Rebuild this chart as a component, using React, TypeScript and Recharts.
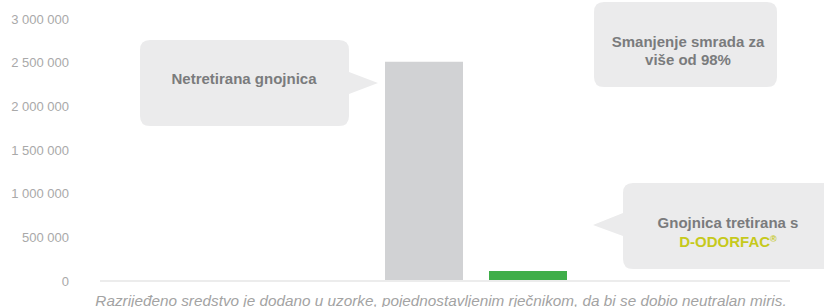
import { Bar, BarChart, Cell, Customized, XAxis, YAxis } from "recharts";

const categories = ["Netretirana gnojnica", "Gnojnica tretirana s D-ODORFAC®"];
const odourValues = [2510000, 115000];
const yTicks = [0, 500000, 1000000, 1500000, 2000000, 2500000, 3000000];
const caption =
  "Razrijeđeno sredstvo je dodano u uzorke, pojednostavljenim rječnikom, da bi se dobio neutralan miris.";

const BAR_COLORS = ["#d1d2d4", "#3fae49"];
const BUBBLE = "#ebebec";
const TEXT = "#7a7b7d";
const FONT = "'Liberation Sans', Arial, Helvetica, sans-serif";

const rows = categories.map((name, i) => ({ name, value: odourValues[i] }));

const fmt = (v: number) => String(v).replace(/\B(?=(\d{3})+(?!\d))/g, " ");

// rounded box with a small pointer on one side
function bubble(
  x: number,
  y: number,
  w: number,
  h: number,
  r: number,
  ptr?: { side: "left" | "right"; y0: number; y1: number; tx: number; ty: number }
) {
  let d = `M${x + r},${y} H${x + w - r} Q${x + w},${y} ${x + w},${y + r}`;
  if (ptr && ptr.side === "right") {
    d += ` V${ptr.y0} L${ptr.tx},${ptr.ty} L${x + w},${ptr.y1}`;
  }
  d += ` V${y + h - r} Q${x + w},${y + h} ${x + w - r},${y + h} H${x + r} Q${x},${y + h} ${x},${y + h - r}`;
  if (ptr && ptr.side === "left") {
    d += ` V${ptr.y1} L${ptr.tx},${ptr.ty} L${x},${ptr.y0}`;
  }
  d += ` V${y + r} Q${x},${y} ${x + r},${y} Z`;
  return <path d={d} fill={BUBBLE} />;
}

function Callouts() {
  const t = { fontFamily: FONT, fontSize: 15, fontWeight: 700, textAnchor: "middle" as const };
  return (
    <g>
      {bubble(140, 40, 209, 86, 10, { side: "right", y0: 72, y1: 94, tx: 378, ty: 83 })}
      <text x={244} y={83.5} fill={TEXT} {...t}>
        Netretirana gnojnica
      </text>

      {bubble(594, 2, 183, 85, 10)}
      <text x={688} y={46.5} fill={TEXT} {...t}>
        Smanjenje smrada za
      </text>
      <text x={688} y={64.5} fill={TEXT} {...t}>
        više od 98%
      </text>

      {bubble(623, 183, 215, 86, 10, { side: "left", y0: 213, y1: 236, tx: 593, ty: 225 })}
      <text x={728} y={227.5} fill={TEXT} {...t}>
        Gnojnica tretirana s
      </text>
      <text x={728} y={246.5} fill="#c6c91c" {...t}>
        D-ODORFAC<tspan fontSize={9} dy={-5}>®</tspan>
      </text>
    </g>
  );
}

export default function App() {
  return (
    <div style={{ position: "absolute", left: 0, top: 0 }}>
      <BarChart
        width={824}
        height={307}
        data={rows}
        margin={{ top: 19, right: 34, bottom: 0, left: 0 }}
        style={{ fontFamily: FONT }}
      >
        <YAxis
          width={100}
          domain={[0, 3000000]}
          ticks={yTicks}
          tickFormatter={fmt}
          axisLine={false}
          tickLine={false}
          tickMargin={25}
          tick={{ fill: "#a9a9a9", fontSize: 13 }}
        />
        <XAxis
          dataKey="name"
          height={26}
          padding={{ left: 272, right: 210 }}
          tick={false}
          tickLine={false}
          axisLine={{ stroke: "#ececec", strokeWidth: 2 }}
          label={{
            value: caption,
            position: "insideBottom",
            offset: 1,
            dx: -4,
            fill: "#a3a3a3",
            fontSize: 15.3,
            fontStyle: "italic",
          }}
        />
        <Bar dataKey="value" barSize={78} isAnimationActive={false}>
          {rows.map((r, i) => (
            <Cell key={r.name} fill={BAR_COLORS[i]} />
          ))}
        </Bar>
        <Customized component={Callouts} />
      </BarChart>
    </div>
  );
}
